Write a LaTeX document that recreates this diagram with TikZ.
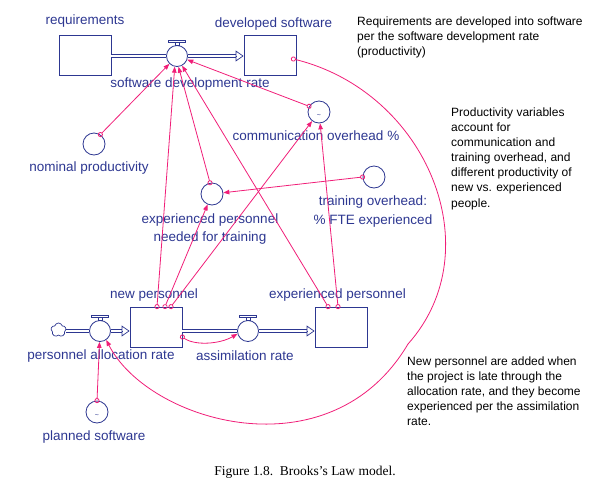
\documentclass[tikz,border=0pt]{standalone}
\usepackage{fontspec}
\setmainfont{Liberation Sans}
\newfontfamily\captionserif{Liberation Serif}
\usepackage{tikz}
\usetikzlibrary{arrows.meta}
\usetikzlibrary{shapes.symbols}
\definecolor{stockblue}{RGB}{45,55,145}
\definecolor{linkpink}{RGB}{240,30,120}

\begin{document}
\begin{tikzpicture}[x=1pt, y=-1pt]
    \tikzstyle{title} = [
      text=stockblue,
      align=center,
      inner sep=0pt,
      font=\fontsize{13.5}{18}\selectfont,
    ]
    \tikzstyle{note} = [
      anchor=north west,
      align=left,
      inner sep=0pt,
      font=\fontsize{12}{15.1}\selectfont,
    ]
    \tikzstyle{stock} = [
      draw=stockblue,
      line width=0.8pt,
      minimum width=52pt,
      minimum height=40pt,
    ]
    \tikzstyle{valve} = [
      circle,
      draw=stockblue,
      line width=0.8pt,
      inner sep=0pt,
      minimum size=21pt,
    ]
    \tikzstyle{aux} = [
      valve,
      minimum size=22pt,
    ]
    \tikzstyle{pipe} = [
      draw=stockblue,
      line width=0.7pt,
      double,
      double distance=2.8pt,
    ]
    \tikzstyle{pipehead} = [
      draw=stockblue,
      line width=0.7pt,
      -{Triangle[open,length=8pt,width=11pt]},
    ]
    \tikzstyle{link} = [
      draw=linkpink,
      line width=0.8pt,
      {Circle[open,length=5pt,width=5pt]}-{Triangle[length=6pt,width=4.5pt]},
      shorten <=-2.5pt,
    ]
    \tikzstyle{tilde} = [
      text=stockblue,
      inner sep=0pt,
      font=\fontsize{7}{7}\selectfont,
    ]

    \newcommand{\valvecap}[1]{
      \draw[stockblue, line width=0.6pt] ([xshift=-2.2pt]#1.north) rectangle ([xshift=2.2pt,yshift=2.8pt]#1.north);
      \draw[stockblue, line width=0.6pt] ([xshift=-8.5pt,yshift=2.8pt]#1.north) rectangle ([xshift=8.5pt,yshift=4.8pt]#1.north);
    }

    \useasboundingbox (0,0) rectangle (600,491);

    % software chain
    {
      \node[stock] (reqStock) at (85,55) {};
      \node[valve] (sdrValve) at (177,56) {};
      \node[stock] (devStock) at (270,55) {};
      \valvecap{sdrValve}
      \coordinate (devIn) at (sdrValve.east -| devStock.west);

      \draw[pipe] (reqStock.east |- sdrValve) -- (sdrValve.west);
      \draw[pipe] (sdrValve.east) -- ([xshift=-8pt] devIn);
      \draw[pipehead] ([xshift=-8pt] devIn) -- (devIn);

      \node[title] (reqTitle) at ([yshift=34pt] reqStock) {requirements};
      \node[title] (devTitle) at ([xshift=3.5pt, yshift=31pt] devStock) {developed software};
      \node[title] (sdrTitle) at ([xshift=13pt, yshift=-28pt] sdrValve) {software development rate};
    }

    % personnel chain
    {
      \node[cloud, cloud puffs=5, aspect=1, draw=stockblue, line width=0.7pt, inner sep=0pt, minimum width=15pt, minimum height=14pt] (srcCloud) at (58.5,330) {};
      \node[valve] (allocValve) at (100,331) {};
      \node[stock] (newStock) at (156,327) {};
      \node[valve] (assimValve) at (248,331) {};
      \node[stock] (expStock) at (341,327) {};
      \valvecap{allocValve}
      \valvecap{assimValve}
      \coordinate (newIn) at (allocValve.east -| newStock.west);
      \coordinate (newOut) at (assimValve.west -| newStock.east);
      \coordinate (expIn) at (assimValve.east -| expStock.west);

      \draw[pipe] (srcCloud.east |- allocValve) -- (allocValve.west);
      \draw[pipe] (allocValve.east) -- ([xshift=-8pt] newIn);
      \draw[pipehead] ([xshift=-8pt] newIn) -- (newIn);
      \draw[pipe] (newOut) -- (assimValve.west);
      \draw[pipe] (assimValve.east) -- ([xshift=-8pt] expIn);
      \draw[pipehead] ([xshift=-8pt] expIn) -- (expIn);

      \node[title] (newTitle) at ([xshift=-2pt, yshift=32pt] newStock) {new personnel};
      \node[title] (expTitle) at ([xshift=-3.5pt, yshift=32pt] expStock) {experienced personnel};
      \node[title] (allocTitle) at ([xshift=1pt, yshift=-25pt] allocValve) {personnel allocation rate};
      \node[title] (assimTitle) at ([xshift=-3pt, yshift=-25pt] assimValve) {assimilation rate};
    }

    % auxiliaries
    {
      \node[aux] (nomProd) at (94,144) {};
      \node[aux] (commOver) at (319,112) {};
      \node[aux] (trainOver) at (374,177) {};
      \node[aux] (expTrain) at (212,194) {};
      \node[aux] (planSoft) at (97,412) {};
      \node[tilde] (commTilde) at ([yshift=-4pt] commOver) {\textasciitilde};
      \node[tilde] (planTilde) at ([yshift=-4pt] planSoft) {\textasciitilde};

      \node[title] (nomTitle) at ([xshift=-5pt, yshift=-24pt] nomProd) {nominal productivity};
      \node[title] (commTitle) at ([xshift=-3pt, yshift=-24pt] commOver) {communication overhead \%};
      \node[title, font=\fontsize{13.5}{19}\selectfont] (trainTitle) at ([xshift=-1pt, yshift=-34.5pt] trainOver) {training overhead:\\\% FTE experienced};
      \node[title] (expTrainTitle) at ([xshift=-2pt, yshift=-35pt] expTrain) {experienced personnel\\needed for training};
      \node[title] (planTitle) at ([xshift=-3pt, yshift=-25pt] planSoft) {planned software};
    }

    % links
    {
      \draw[link] (nomProd.56) -- (sdrValve);
      \draw[link] ([xshift=1pt] newStock.north) -- (sdrValve.258);
      \draw[link] ([xshift=9pt] newStock.north) -- (expTrain);
      \draw[link] ([xshift=15pt] newStock.north) -- (commOver);
      \draw[link] ([xshift=-13pt] expStock.north) -- (sdrValve.298);
      \draw[link] ([xshift=-3pt] expStock.north) -- (commOver);
      \draw[link] (commOver.150) -- (sdrValve.340);
      \draw[link] (expTrain.100) -- (sdrValve.278);
      \draw[link] (trainOver.180) -- (expTrain);
      \draw[link] (planSoft.90) -- (allocValve);
      \draw[link] ([yshift=-10pt] newStock.east) .. controls (195,346) and (220,344) .. (assimValve.195);
      \draw[link] ([xshift=-3pt, yshift=-4pt] devStock.east)
        .. controls (427,92) and (492,250) .. (408,344)
        .. controls (330,476) and (148,422) .. (allocValve.305);
    }

    % notes
    {
      \node[note] (reqNote) at (357,16.5) {Requirements are developed into software\\per the software development rate\\(productivity)};
      \node[note] (prodNote) at (451,107.5) {Productivity variables\\account for\\communication and\\training overhead, and\\different productivity of\\new vs. experienced\\people.};
      \node[note] (newNote) at (407,356.5) {New personnel are added when\\the project is late through the\\allocation rate, and they become\\experienced per the assimilation\\rate.};
      \node[font=\captionserif\fontsize{13.5}{16}\selectfont, inner sep=0pt] (figCaption) at (305,472) {Figure 1.8.\ \ Brooks’s Law model.};
    }
\end{tikzpicture}
\end{document}
